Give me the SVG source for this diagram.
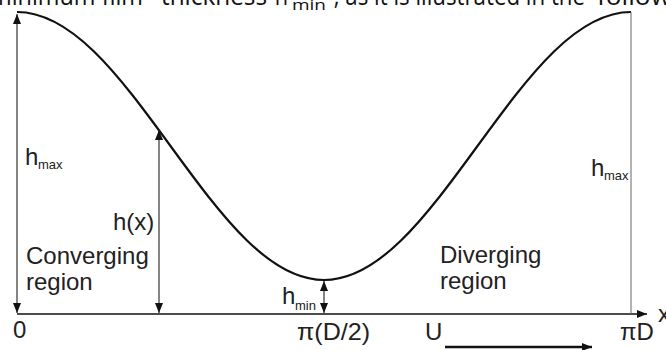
<svg xmlns="http://www.w3.org/2000/svg" width="666" height="350" viewBox="0 0 666 350">
<style>
.lbl{font-family:"Liberation Sans",Arial,sans-serif;font-size:24px;fill:#222}
.sub{font-family:"Liberation Sans",Arial,sans-serif;font-size:13px;fill:#222}
.top{font-family:"Open Sans","Liberation Sans",sans-serif;font-size:26px;fill:#111}
.dim{stroke:#333;stroke-width:1.2;fill:none}
</style>
<defs>
<marker id="ah" markerUnits="userSpaceOnUse" markerWidth="10" markerHeight="8" refX="10" refY="4" orient="auto-start-reverse">
<path d="M0,0 L10,4 L0,8 z" fill="#111"/>
</marker>
</defs>
<rect width="666" height="350" fill="#fff"/>
<g id="caption">
<text class="top" y="5"><tspan x="-10" textLength="153" lengthAdjust="spacingAndGlyphs">minimum film</tspan><tspan x="161" textLength="106" lengthAdjust="spacingAndGlyphs">thickness</tspan><tspan x="271" textLength="17" lengthAdjust="spacingAndGlyphs">‘h</tspan><tspan x="292" y="10" font-size="15" textLength="34" lengthAdjust="spacingAndGlyphs">min</tspan><tspan x="330" y="5" textLength="255" lengthAdjust="spacingAndGlyphs">’, as it is illustrated in the</tspan><tspan x="597" textLength="74" lengthAdjust="spacingAndGlyphs">follow</tspan></text>
</g>
<g id="curve">
<path d="M17,12 C42.58,12 68.17,26.44 93.75,51.25 C119.33,76.06 144.92,110.92 170.5,146 C196.08,181.08 221.67,215.94 247.25,240.75 C272.83,265.56 298.42,280 324,280 C349.58,280 375.17,265.56 400.75,240.75 C426.33,215.94 451.92,181.08 477.5,146 C503.08,110.92 528.67,76.06 554.25,51.25 C579.83,26.44 605.42,12 631,12" fill="none" stroke="#111" stroke-width="2.2"/>
</g>
<g id="connectors">
<line x1="17" y1="314" x2="647" y2="314" stroke="#111" stroke-width="1.6" marker-end="url(#ah)"/>
<line class="dim" x1="17" y1="14" x2="17" y2="313" marker-start="url(#ah)" marker-end="url(#ah)"/>
<line class="dim" x1="159" y1="130" x2="159" y2="313" marker-start="url(#ah)" marker-end="url(#ah)"/>
<line class="dim" x1="324" y1="281" x2="324" y2="313" marker-start="url(#ah)" marker-end="url(#ah)"/>
<line x1="631" y1="12" x2="631" y2="314" stroke="#666" stroke-width="1"/>
<line x1="445" y1="347" x2="592" y2="347" stroke="#111" stroke-width="2.5" marker-end="url(#ah)"/>
</g>
<g id="hmax-left"><text class="lbl" x="25" y="165">h</text><text class="sub" x="38" y="169">max</text></g>
<g id="hmax-right"><text class="lbl" x="591" y="176">h</text><text class="sub" x="604" y="180">max</text></g>
<g id="hmin"><text class="lbl" x="282" y="304">h</text><text class="sub" x="295" y="310">min</text></g>
<g id="hx"><text class="lbl" x="113" y="230">h(x)</text></g>
<g id="converging"><text class="lbl" x="26" y="264">Converging</text><text class="lbl" x="26" y="290">region</text></g>
<g id="diverging"><text class="lbl" x="440" y="263">Diverging</text><text class="lbl" x="440" y="289">region</text></g>
<g id="axis-labels">
<text class="lbl" x="13" y="338">0</text>
<text class="lbl" x="297" y="340" textLength="73" lengthAdjust="spacingAndGlyphs">π(D/2)</text>
<text class="lbl" x="425" y="340">U</text>
<text class="lbl" x="620" y="340">πD</text>
<text class="lbl" x="658" y="322">x</text>
</g>
</svg>
